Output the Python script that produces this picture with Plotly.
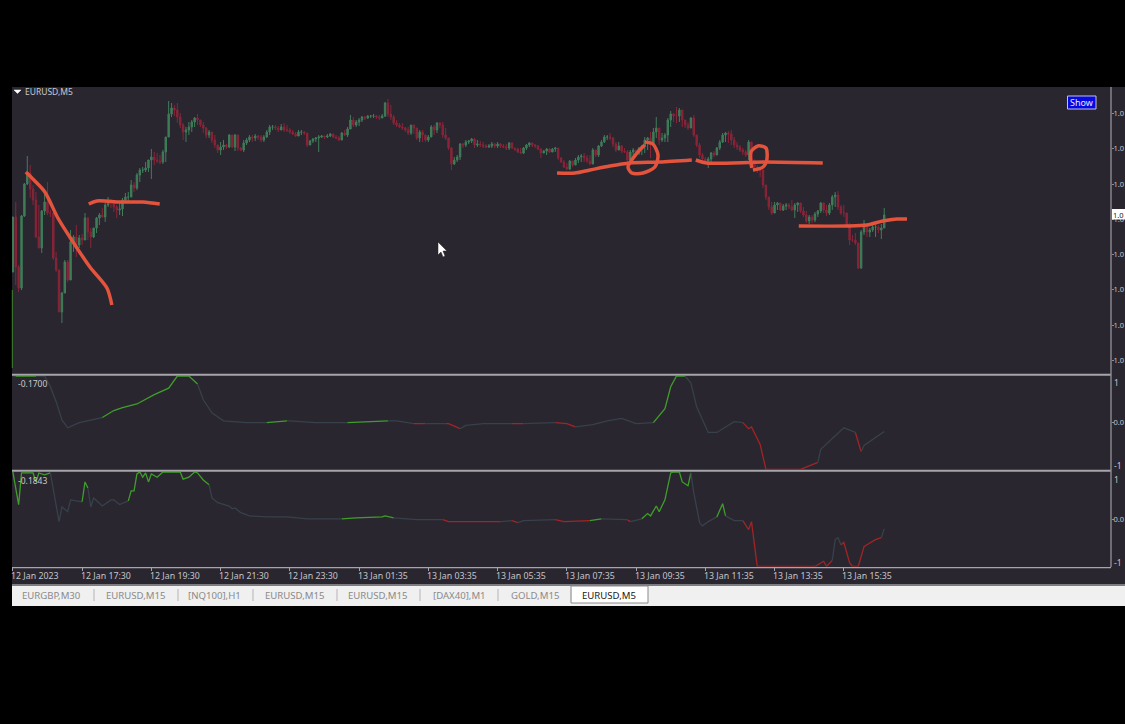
import plotly.graph_objects as go

W, H = 1125, 724
first_open = 128
close_pts = [
183,133,112,184,216,227,211,200,163,152, 189,198,187,187,142,130,88,107,138,120,
158,163,155,162,160,182,168,163,172,182, 185,183,195,200,198,193,190,191,200,203,
203,215,212,225,230,230,232,240,243,240, 239,238,248,263,286,292,290,283,275,268,
270,273,278,282,280,275,272,265,268,260, 255,250,253,255,253,265,253,265,252,250,
257,260,263,262,264,263,260,263,268,273, 273,272,270,273,270,270,268,266,264,268,
268,267,255,259,261,262,263,264,263,264, 266,263,262,260,267,265,271,280,275,278,
280,283,282,284,284,284,283,282,284,297, 286,283,277,275,273,272,270,267,275,272,
262,268,265,260,263,273,270,277,275,265, 262,252,236,240,243,256,255,258,259,261,
255,256,255,254,253,254,256,254,256,254, 253,252,257,252,251,248,247,252,255,257,
255,254,251,247,249,251,248,251,252,242, 238,233,231,239,235,240,243,244,242,239,
236,250,245,254,258,263,263,262,256,250, 254,249,248,240,248,250,247,252,254,260,
262,255,268,272,260,262,265,280,286,284, 284,290,280,275,272,282,265,255,245,241,
239,241,247,245,252,258,265,267,266,260, 255,253,250,248,245,258,240,233,230,230,
215,203,193,187,195,197,190,194,195,193, 190,195,197,189,185,179,183,180,186,189,
197,190,187,195,203,205,193,187,187,175, 160,160,157,132,168,176,168,170,173,173,
170,172,185]
high_pts = [
183,198,135,185,217,244,235,215,208,195, 190,208,218,190,187,148,130,108,140,140,
170,165,175,165,166,187,183,172,172,183, 187,192,197,203,200,200,195,197,202,207,
208,220,218,227,232,233,238,240,251,248, 247,245,250,263,299,297,295,297,287,277,
273,278,280,283,286,280,278,273,270,268, 265,255,258,260,256,266,265,266,265,253,
260,262,265,265,266,265,265,265,270,275, 275,275,274,276,277,275,272,270,268,270,
270,269,260,260,262,263,265,265,264,266, 267,266,265,264,268,270,273,285,283,280,
282,284,284,285,285,286,285,285,286,298, 301,295,285,280,277,277,273,273,275,274,
272,270,270,265,265,275,275,278,278,278, 272,262,253,243,245,257,257,260,260,262,
262,260,259,258,256,256,258,257,258,257, 256,256,258,258,252,252,252,253,256,258,
257,256,255,252,250,252,252,252,253,252, 243,240,237,240,238,242,245,246,247,245,
245,252,250,255,260,265,265,267,263,258, 258,255,252,250,250,252,250,253,255,263,
263,268,272,283,272,267,267,282,289,287, 293,292,290,280,278,283,285,265,257,247,
243,243,248,249,253,260,267,268,269,270, 263,258,255,252,250,260,257,240,235,232,
228,215,203,198,198,198,195,196,197,197, 200,197,198,197,193,189,185,185,188,190,
198,193,195,197,205,208,209,195,195,183, 177,165,167,157,170,180,173,172,175,175,
175,176,192]
low_pts = [
128,115,108,110,183,215,202,195,162,152, 147,185,185,183,140,128,88,77,107,118,
120,148,143,152,155,162,160,152,162,167, 175,183,178,193,192,188,182,185,184,198,
197,205,208,210,218,227,228,228,221,235, 237,236,236,238,263,283,284,277,272,260,
258,265,268,273,275,273,267,262,262,257, 252,247,245,250,251,252,252,249,249,249,
248,255,258,258,259,260,258,258,262,265, 270,270,268,270,268,268,266,265,263,264,
265,265,253,256,257,258,248,262,261,262, 263,262,261,259,260,264,263,273,273,273,
274,278,280,281,282,282,281,280,282,283, 283,280,275,273,272,270,268,265,265,266,
260,258,258,258,258,265,265,267,272,262, 260,250,230,235,238,240,252,253,256,257,
252,253,253,252,252,252,252,252,252,252, 252,250,250,251,249,247,246,246,250,253,
253,252,250,242,247,245,247,248,248,240, 237,232,230,230,233,237,237,238,238,237,
235,237,243,243,253,257,260,260,253,248, 250,247,247,238,240,242,243,245,245,247,
250,242,255,262,255,258,258,258,273,278, 277,278,273,272,270,272,263,253,242,238,
237,232,238,243,245,250,257,258,257,255, 252,250,248,245,243,240,232,230,227,223,
212,200,190,185,188,190,189,189,190,191, 189,182,188,187,183,177,176,177,178,183,
187,187,184,185,190,193,190,185,183,173, 155,158,155,131,131,165,163,163,168,163,
167,161,173]
open_pts = [first_open] + close_pts[:-1]
bars = list(range(len(close_pts)))

price_ticks = [286.5,251.5,215.5,180.5,145.5,110.5,74.5,39.5]
price_labels = ["1.0"]*8
tick_bars = [0,24,48,72,96,120,144,168,192,216,240,264,288]
tick_labels = ["12 Jan 2023","12 Jan 17:30","12 Jan 19:30","12 Jan 21:30","12 Jan 23:30","13 Jan 01:35",
               "13 Jan 03:35","13 Jan 05:35","13 Jan 07:35","13 Jan 09:35","13 Jan 11:35","13 Jan 13:35","13 Jan 15:35"]
tabs = ["EURGBP,M30","EURUSD,M15","[NQ100],H1","EURUSD,M15","EURUSD,M15","[DAX40],M1","GOLD,M15","EURUSD,M5"]

osc1_bars = [0,1,2,8,11,13,15,17,19,23, 31,35,38,43,49,54,57,61,64,66, 69,73,81,88,95,96,105,116,123,130,
             133,139,143,150,151,155,157,163,173,177, 188,192,195,201,206,211,216,222,226,228,
             230,233,235,237,241,244,250,253,255,256, 259,261,273,279,280,288,292,294,295,302]
osc1_vals = [1,1,1,1,1,.77,.45,.06,-.11,0, .11,.26,.32,.40,.60,.74,1,1,.83,.49, .21,.04,0,0,.04,.04,0,0,.02,.04,
             .04,-.02,-.02,-.02,-.02,-.13,-.06,-.02,-.02,-.02, 0,-.02,-.09,-.04,.04,.09,-.02,0,.30,.77,
             1,1,.85,.34,-.21,-.21,.02,0,-.13,-.09, -.47,-1,-1,-.85,-.57,-.11,-.21,-.62,-.49,-.19]
osc1_state = list("GDGGDDDDDD" "DGGGGGGGGD" "DDDDGDDDGG" "DDRDRRDDDR" "DRRDDDDDGG" "GGDDDDDDRR" "RRRRDDDRDD")
osc2_bars = [0,2,3,7,8,9,11,13,14,16, 17,19,20,24,25,26,27,28,31,34, 35,37,40,41,42,43,44,45,46,47,
             48,50,52,58,59,61,63,64,66,68, 69,71,75,76,77,79,82,88,95,102, 114,119,128,129,132,140,149,151,163,169,
             173,175,177,188,191,200,203,204,213,214, 218,220,221,223,224,226,228,229,231,232,
             234,235,236,238,239,241,244,246,247,250, 253,255,256,258,278,281,282,284,285,286,
             287,288,290,291,293,295,296,299,301,302]
osc2_vals = [1,.31,.98,.98,.79,.98,.94,.98,.62,-.05, .26,.16,.41,.37,.79,.66,.26,.45,.28,.41, .41,.31,.39,.6,.6,.96,1,.89,.98,.79,
             .96,.89,1,1,.85,.89,1,.98,.83,.73, .45,.35,.28,.22,.24,.14,.07,.05,.05,.01, .01,.03,.05,.07,.03,-.01,-.01,-.05,-.05,-.05,
             -.03,-.07,-.03,-.01,-.05,-.03,.01,.01,-.01,-.05, .01,.12,.07,.28,.16,.41,.98,1,1,.79,
             .71,.98,.56,-.07,-.14,-.05,.05,.33,.07,-.03, -.03,-.22,-.05,-1,-1,-.89,-1,-.87,-.43,-.39,
             -.54,-.49,-.92,-1,-1,-.58,-.54,-.43,-.39,-.2]
osc2_state = list("GGGGGGGGDD" "DDDDGGDDDD" "DDDGGGGGGG" "GGGGGGGGGG" "DDDDDDDDDD" "DGGGGDDRRR"
                  "DRDDRRGGDR" "DGGGGGGGGG" "GGDDDDDGGD" "DRRRRRRRDD" "DRRRRRRRRD")

stroke_bars = [
    [4.5,7.3,11.1,15.6,20.4,26.7,32.6,34.3],
    [26.3,29.1,37.1,45.1,50.9],
    [188.6,194.8,200,206.9,213.8,224.2,235.3],
    [236.7,240.5,260.6,280.7],
    [219,221.8,223.6,222.5,218.4,214.5,213.2,216.3,219],
    [256.1,255.8,258.2,261,261.3,260,256.5],
    [272.4,289,296,301.5,306.4,309.9],
]
stroke_pts = [
    [228,220,208,182,160,133,112,95],
    [196,199,198,198,196],
    [227,227,230,234,237,238,240],
    [240,237,238,237],
    [258,256,245,233,227,227,233,247,255],
    [232,248,254,252,240,233,230],
    [174,174,175,179,181,181],
]

BG = "#2a2630"
GRID = "#a6a6aa"
TXT = "#c4c4c8"
FONT = "Noto Sans"
OSC = {"G": "#3f9e2a", "D": "#36414a", "R": "#a32424"}

def px(x): return x / W
def py(y): return 1 - y / H

fig = go.Figure()
fig.add_trace(go.Candlestick(
    x=bars, open=open_pts, high=high_pts, low=low_pts, close=close_pts,
    increasing=dict(line=dict(color="#3f7d58", width=1), fillcolor="#3f7d58"),
    decreasing=dict(line=dict(color="#8a2438", width=1), fillcolor="#8a2438"),
    whiskerwidth=0, xaxis="x", yaxis="y", showlegend=False, hoverinfo="skip"))

def add_osc(xs, ys, st, xa, ya):
    i = 1
    while i < len(xs):
        j = i
        while j + 1 < len(xs) and st[j + 1] == st[i]:
            j += 1
        fig.add_trace(go.Scatter(x=xs[i-1:j+1], y=ys[i-1:j+1], mode="lines",
                                 line=dict(color=OSC[st[i]], width=1.3),
                                 xaxis=xa, yaxis=ya, showlegend=False, hoverinfo="skip", cliponaxis=False))
        i = j + 1

add_osc(osc1_bars, osc1_vals, osc1_state, "x2", "y2")
add_osc(osc2_bars, osc2_vals, osc2_state, "x3", "y3")

for sx, sy in zip(stroke_bars, stroke_pts):
    fig.add_trace(go.Scatter(x=sx, y=sy, mode="lines", line=dict(color="#e4533c", width=3.5, shape="spline", smoothing=0.8),
                             xaxis="x", yaxis="y", showlegend=False, hoverinfo="skip"))

XR = [-0.3, 380.6]
dx = [px(12), px(1111)]
common = dict(range=XR, domain=dx, showgrid=False, zeroline=False, showticklabels=False, fixedrange=True)
shapes = []
def rect(x0, y0, x1, y1, fill, line=None, lw=0, layer="below"):
    shapes.append(dict(type="rect", xref="paper", yref="paper", x0=px(x0), x1=px(x1), y0=py(y0), y1=py(y1),
                       fillcolor=fill, line=dict(color=line or fill, width=lw), layer=layer))
def hline(x0, x1, y, color, w, layer="above"):
    shapes.append(dict(type="line", xref="paper", yref="paper", x0=px(x0), x1=px(x1), y0=py(y), y1=py(y),
                       line=dict(color=color, width=w), layer=layer))
def vline(x, y0, y1, color, w, layer="above"):
    shapes.append(dict(type="line", xref="paper", yref="paper", x0=px(x), x1=px(x), y0=py(y0), y1=py(y1),
                       line=dict(color=color, width=w), layer=layer))
def poly(pts, fill, line, lw=0.5):
    d = "M " + " L ".join(f"{px(a):.5f},{py(b):.5f}" for a, b in pts) + " Z"
    shapes.append(dict(type="path", xref="paper", yref="paper", path=d, fillcolor=fill,
                       line=dict(color=line, width=lw), layer="above"))

rect(12, 87, 1125, 586, BG)
rect(12, 586, 1125, 606, "#f0f0f0", layer="above")
hline(12, 1125, 585, "#9a9a9c", 1.5)
hline(12, 1111, 374.7, GRID, 2)
hline(12, 1111, 470.8, GRID, 2)
hline(12, 1111, 567.6, GRID, 1.2)
vline(1111, 87, 567, "#8d8d92", 1.4)
vline(12.3, 290, 368, "#3f9e2a", 0.8)

# active tab and tab separators
rect(571, 586, 648, 603, "#ffffff", "#8a8a8a", 1, layer="above")
for sx in [94, 178, 253, 337, 420, 498, 571]:
    vline(sx, 589, 601, "#b5b5b5", 1)

# Show button, cursor, symbol marker
rect(1067.5, 96, 1096, 109, "#0808e0", "#c0c0d8", 1, layer="above")
poly([(438, 242), (438, 255), (441, 252), (443, 257), (445, 256), (443, 251), (447, 251)], "#ffffff", "#222222")
poly([(14, 90), (21, 90), (17.5, 93.5)], "#ffffff", "#ffffff")
# current price box
rect(1112, 209, 1125, 219.5, "#ffffff", layer="above")

anns = []
def text(x, y, s, color=TXT, size=9, anchor="left"):
    anns.append(dict(xref="paper", yref="paper", x=px(x), y=py(y), text=s, showarrow=False, xanchor=anchor, yanchor="middle",
                     font=dict(family=FONT, size=size, color=color), borderpad=0, borderwidth=0, bgcolor="rgba(0,0,0,0)"))

text(24.5, 91, "EURUSD,M5", "#c9c9cc", 8.5)
text(18, 383.5, "-0.1700", "#c9c9cc", 8.5)
text(18, 480, "-0.1843", "#c9c9cc", 8.5)
text(1081.7, 102.5, "Show", "#e8e8ff", 9, "center")
text(1118.5, 214.5, "1.0", "#222222", 7.5, "center")
text(1114, 382, "1", TXT, 8.5)
text(1114, 465, "-1", TXT, 8.5)
text(1114, 479, "1", TXT, 8.5)
text(1114, 562, "-1", TXT, 8.5)

for b, s in zip(tick_bars, tick_labels):
    x_px = 12 + (b - XR[0]) / (XR[1] - XR[0]) * 1099
    text(x_px - 1.5, 575.5, s, TXT, 8.8)
for cx, s, active in zip([51.5, 135.5, 214.5, 294.5, 377.5, 459.5, 534.5, 608.5], tabs, [0, 0, 0, 0, 0, 0, 0, 1]):
    text(cx, 595, s, "#202020" if active else "#8a8a8a", 9.6, "center")

ytick = dict(ticks="outside", ticklen=2, tickcolor="#8d8d92", tickwidth=1, showgrid=False, zeroline=False, side="right",
             tickfont=dict(family=FONT, size=7.5, color=TXT), ticklabelstandoff=-2, fixedrange=True, anchor="free", position=px(1111))
fig.update_layout(
    width=W, height=H, margin=dict(l=0, r=0, t=0, b=0, autoexpand=False), paper_bgcolor="#000000", plot_bgcolor=BG,
    showlegend=False, shapes=shapes, annotations=anns,
    xaxis=dict(**common, rangeslider=dict(visible=False), anchor="y"),
    xaxis2=dict(**common, anchor="y2"),
    xaxis3=dict(**common, anchor="y3", ticks="outside", ticklen=3, tickcolor="#a6a6aa", tickvals=tick_bars),
    yaxis=dict(ytick, domain=[py(373.5), py(87)], range=[26.5, 313], tickvals=price_ticks, ticktext=price_labels),
    yaxis2=dict(ytick, domain=[py(469.3), py(376)], range=[-1, 1], tickvals=[0], ticktext=["0.0"]),
    yaxis3=dict(ytick, domain=[py(566.5), py(472)], range=[-1, 1], tickvals=[0], ticktext=["0.0"]),
)
fig.write_html("out.html", config={"displayModeBar": False},
               post_script="document.body.style.margin='0';document.body.style.background='#000';document.documentElement.style.overflow='hidden';")
